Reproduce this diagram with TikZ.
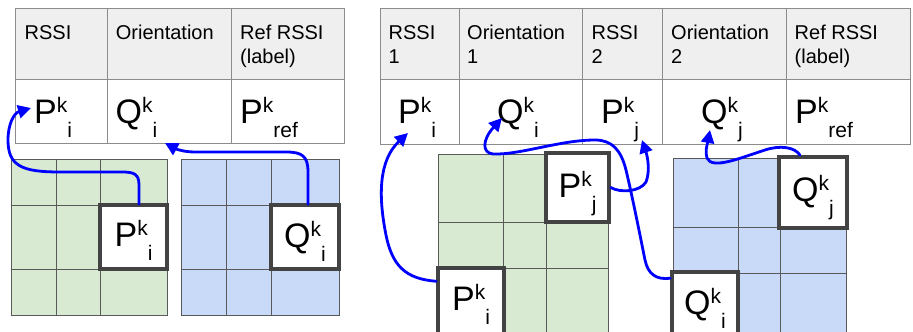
\documentclass[tikz,border=0pt]{standalone}
\usepackage{fontspec}
\setmainfont{Liberation Sans}
\usetikzlibrary{arrows.meta}
\definecolor{hdr}{HTML}{EFEFEF}
\definecolor{tline}{HTML}{8C8C8C}
\definecolor{gfill}{HTML}{D9EAD3}
\definecolor{bfill}{HTML}{C9DAF8}
\definecolor{gline}{HTML}{595959}
\definecolor{hbord}{HTML}{434343}
\definecolor{arrblue}{HTML}{0000FF}
\newcommand{\symb}[3]{{\fontsize{34}{34}\selectfont #1}\raisebox{11pt}{\fontsize{21}{21}\selectfont #2}\raisebox{-14pt}{\fontsize{21}{21}\selectfont #3}}
\begin{document}
\begin{tikzpicture}[x=1pt,y=-1pt,
  tb/.style={draw=tline, line width=1pt},
  gl/.style={draw=gline, line width=1pt},
  hbox/.style={draw=hbord, line width=3.5pt, fill=white, inner sep=0pt, rectangle},
  hdrtext/.style={anchor=north west, inner sep=0pt, align=left, font=\fontsize{20}{24}\selectfont},
  bigt/.style={anchor=base west, inner sep=0pt},
  boxt/.style={anchor=base, inner sep=0pt},
  arr/.style={draw=arrblue, line width=2.8pt, line cap=round, -{Triangle[length=13pt,width=13pt]}}]
\useasboundingbox (0,0) rectangle (913,332);
\clip (0,0) rectangle (913,332);
\fill[white] (0,0) rectangle (913,332);

% left table
\fill[hdr] (15,8) rectangle (344,79);
\draw[tb] (15,8) rectangle (344,143);
\draw[tb] (15,79) -- (344,79);
\draw[tb] (107,8) -- (107,143);
\draw[tb] (231,8) -- (231,143);

% right table
\fill[hdr] (380,8) rectangle (910,79);
\draw[tb] (380,8) rectangle (910,144);
\draw[tb] (380,79) -- (910,79);
\foreach \x in {459,582,662,786} \draw[tb] (\x,8) -- (\x,144);

% header texts
\node[hdrtext] (h1) at (24.5,22.2) {\strut RSSI};
\node[hdrtext] (h2) at (115.7,22.2) {\strut Orientation};
\node[hdrtext] (h3) at (240,22.2) {\strut Ref RSSI\\(label)};
\node[hdrtext] (h4) at (388.5,22.2) {\strut RSSI\\1};
\node[hdrtext] (h5) at (467,22.2) {\strut Orientation\\1};
\node[hdrtext] (h6) at (591.5,22.2) {\strut RSSI\\2};
\node[hdrtext] (h7) at (671,22.2) {\strut Orientation\\2};
\node[hdrtext] (h8) at (794.5,22.2) {\strut Ref RSSI\\(label)};

% table values
\node[bigt] (PtL) at (34,123) {\symb{P}{k}{i}};
\node[bigt] (QtL) at (115.5,123) {\symb{Q}{k}{i}};
\node[bigt] (RtL) at (240,123) {\symb{P}{k}{ref}};
\node[bigt] (PtR1) at (398,123) {\symb{P}{k}{i}};
\node[bigt] (QtR1) at (497,123) {\symb{Q}{k}{i}};
\node[bigt] (PtR2) at (601,123) {\symb{P}{k}{j}};
\node[bigt] (QtR2) at (701,123) {\symb{Q}{k}{j}};
\node[bigt] (RtR) at (795,123) {\symb{P}{k}{ref}};

% left green grid
\fill[gfill] (11,159) rectangle (167,315);
\draw[gl] (11,159) rectangle (167,315);
\draw[gl] (56,159) -- (56,315) (100,159) -- (100,315) (11,205) -- (167,205) (11,269) -- (167,269);
% left blue grid
\fill[bfill] (181,159) rectangle (339,315);
\draw[gl] (181,159) rectangle (339,315);
\draw[gl] (226,159) -- (226,315) (271,159) -- (271,315) (181,205) -- (339,205) (181,269) -- (339,269);
% right green grid
\fill[gfill] (438,154) rectangle (608,345);
\draw[gl] (438,154) rectangle (608,345);
\draw[gl] (503,154) -- (503,345) (546,154) -- (546,345) (438,222) -- (608,222) (438,268) -- (608,268);
% right blue grid
\fill[bfill] (673,158) rectangle (846,345);
\draw[gl] (673,158) rectangle (846,345);
\draw[gl] (738,158) -- (738,345) (780,158) -- (780,345) (673,227) -- (846,227) (673,273) -- (846,273);

% highlighted boxes
\node[hbox, minimum width=67pt, minimum height=64pt] (PiL) at (133.5,237) {};
\node[hbox, minimum width=68pt, minimum height=64pt] (QiL) at (305,237) {};
\node[hbox, minimum width=63pt, minimum height=69pt] (PjR) at (577.5,187.5) {};
\node[hbox, minimum width=66pt, minimum height=68pt] (PiR) at (471,302) {};
\node[hbox, minimum width=68pt, minimum height=71pt] (QjR) at (813,192.5) {};
\node[hbox, minimum width=66pt, minimum height=68pt] (QiR) at (705,306) {};

\node[boxt] (PiLt) at ([shift={(0,43)}]PiL.north) {\symb{P}{k}{i}};
\node[boxt] (QiLt) at ([shift={(0,44)}]QiL.north) {\symb{Q}{k}{i}};
\node[boxt] (PjRt) at ([shift={(0,46)}]PjR.north) {\symb{P}{k}{j}};
\node[boxt] (PiRt) at ([shift={(0,44)}]PiR.north) {\symb{P}{k}{i}};
\node[boxt] (QjRt) at ([shift={(0,46)}]QjR.north) {\symb{Q}{k}{j}};
\node[boxt] (QiRt) at ([shift={(0,44)}]QiR.north) {\symb{Q}{k}{i}};

% arrows
\draw[arr] ([shift={(5.5,1)}]PiL.north) -- (139,185) .. controls (139,174) and (134,172) .. (122,172) -- (60,172) .. controls (22,172) and (8,166) .. (8,140) .. controls (8,124) and (14,113) .. ([shift={(-3,-15)}]PtL.base west);
\draw[arr] ([shift={(3,1)}]QiL.north) -- (308,172) .. controls (308,156) and (302,152) .. (286,152) -- (195,152) .. controls (182,152) and (174,148) .. ([shift={(49.5,20)}]QtL.base west);
\draw[arr] ([shift={(0,15)}]PiR.north west) .. controls (405,279) and (392,265) .. (386,235) .. controls (378,195) and (379,160) .. ([shift={(10,10)}]PtR1.base west);
\draw[arr] ([shift={(0,8)}]QiR.north west) .. controls (656,280) and (648,274) .. (645,260) .. controls (640,235) and (632,195) .. (626,170) .. controls (621,150) and (612,140) .. (595,140) .. controls (560,140) and (520,155) .. (493,154) .. controls (482,153) and (482,140) .. ([shift={(5,-5)}]QtR1.base west);
\draw[arr] (PjR.east) .. controls (620,193) and (640,192) .. (646,182) .. controls (650,172) and (648,158) .. ([shift={(41,17)}]PtR2.base west);
\draw[arr] ([shift={(-13,0)}]QjR.north) .. controls (795,147) and (780,145) .. (765,150) .. controls (740,158) and (712,170) .. (707,158) .. controls (705,150) and (707,146) .. ([shift={(9,7)}]QtR2.base west);
\end{tikzpicture}
\end{document}
